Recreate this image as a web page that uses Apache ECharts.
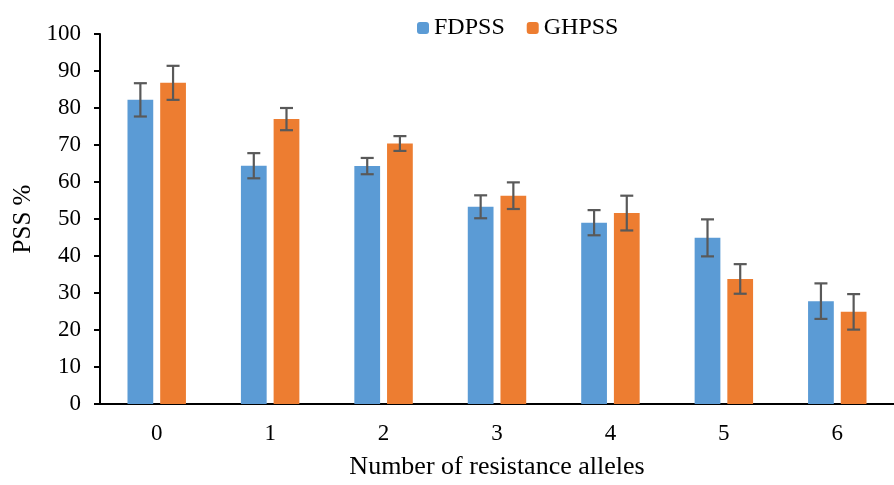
<!DOCTYPE html>
<html>
<head>
<meta charset="utf-8">
<script src="https://cdn.jsdelivr.net/npm/echarts@6/dist/echarts.min.js"></script>
<style>html,body{margin:0;padding:0;background:#fff;}#c{width:894px;height:485px;}</style>
</head>
<body>
<div id="c"></div>
<script>
var categories = ['0', '1', '2', '3', '4', '5', '6'];
var fdpss = [82.2, 64.4, 64.3, 53.3, 49.0, 44.9, 27.8];
var fdpssErr = [4.5, 3.4, 2.2, 3.1, 3.4, 5.0, 4.8];
var ghpss = [86.8, 77.0, 70.4, 56.3, 51.6, 33.8, 24.9];
var ghpssErr = [4.6, 3.0, 2.0, 3.6, 4.7, 4.0, 4.8];
var yTicks = [0, 10, 20, 30, 40, 50, 60, 70, 80, 90, 100];

var FONT = 'Liberation Serif';
var BAR_W = 0.227, BAR_GAP = 0.27;

function errData(mean, err) {
  return mean.map(function (m, i) { return [i, m - err[i], m + err[i]]; });
}
function errRender(side) {
  return function (params, api) {
    var idx = api.value(0);
    var lo = api.coord([idx, api.value(1)]);
    var hi = api.coord([idx, api.value(2)]);
    var band = api.size([1, 0])[0];
    var w = band * BAR_W, g = w * BAR_GAP;
    var x = lo[0] + side * (w + g) / 2;
    var cap = 6.5;
    var st = { stroke: '#595959', lineWidth: 2.2 };
    return {
      type: 'group',
      children: [
        { type: 'line', shape: { x1: x, y1: lo[1], x2: x, y2: hi[1] }, style: st },
        { type: 'line', shape: { x1: x - cap, y1: lo[1], x2: x + cap, y2: lo[1] }, style: st },
        { type: 'line', shape: { x1: x - cap, y1: hi[1], x2: x + cap, y2: hi[1] }, style: st }
      ]
    };
  };
}

var chart = echarts.init(document.getElementById('c'));
chart.setOption({
  animation: false,
  textStyle: { fontFamily: FONT, color: '#000' },
  grid: { left: 100, top: 34, width: 803, height: 374.7 },
  legend: {
    data: ['FDPSS', 'GHPSS'],
    top: 11, left: 412,
    itemWidth: 12, itemHeight: 12, itemGap: 22,
    textStyle: { fontFamily: FONT, fontSize: 24, color: '#000' }
  },
  xAxis: {
    type: 'category', data: categories,
    axisLine: { lineStyle: { color: '#000', width: 2 } },
    axisTick: { show: false },
    axisLabel: { fontFamily: FONT, fontSize: 23, color: '#000', margin: 18 },
    name: 'Number of resistance alleles', nameLocation: 'middle', nameGap: 50,
    nameTextStyle: { fontFamily: FONT, fontSize: 26, color: '#000' }
  },
  yAxis: {
    type: 'value', min: yTicks[0], max: yTicks[yTicks.length - 1], interval: 10,
    axisLine: { show: true, lineStyle: { color: '#000', width: 2 } },
    axisTick: { show: true, length: 6, lineStyle: { color: '#000', width: 2 } },
    splitLine: { show: false },
    axisLabel: { fontFamily: FONT, fontSize: 23, color: '#000', margin: 19 },
    name: 'PSS %', nameLocation: 'middle', nameGap: 64,
    nameTextStyle: { fontFamily: FONT, fontSize: 25, color: '#000' }
  },
  series: [
    { name: 'FDPSS', type: 'bar', data: fdpss, barWidth: (BAR_W * 100) + '%', barGap: (BAR_GAP * 100) + '%',
      itemStyle: { color: '#5B9BD5' } },
    { name: 'GHPSS', type: 'bar', data: ghpss, barWidth: (BAR_W * 100) + '%', barGap: (BAR_GAP * 100) + '%',
      itemStyle: { color: '#ED7D31' } },
    { type: 'custom', name: 'FDPSS err', data: errData(fdpss, fdpssErr), renderItem: errRender(-1), z: 10,
      encode: { x: 0, y: [1, 2] } },
    { type: 'custom', name: 'GHPSS err', data: errData(ghpss, ghpssErr), renderItem: errRender(1), z: 10,
      encode: { x: 0, y: [1, 2] } }
  ]
});
</script>
</body>
</html>
